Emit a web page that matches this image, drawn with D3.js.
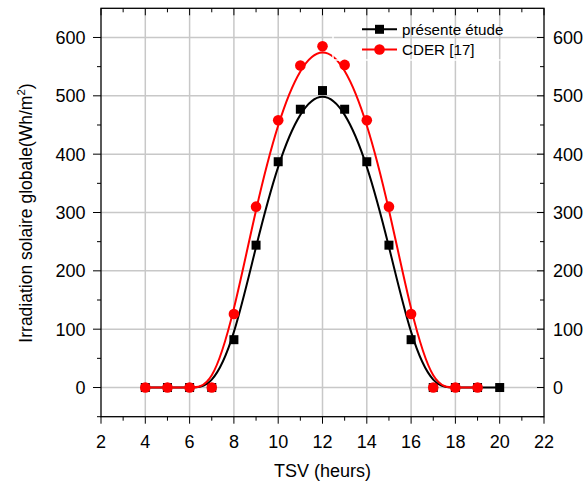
<!DOCTYPE html>
<html><head><meta charset="utf-8">
<script src="https://cdn.jsdelivr.net/npm/d3@7"></script>
<style>body{margin:0;background:#fff}svg{display:block}text{font-family:"Liberation Sans",Arial,sans-serif}</style>
</head><body><svg id="c" width="587" height="487"></svg>
<script>
const hours = [4,5,6,7,8,9,10,11,12,13,14,15,16,17,18,19,20];
const presente = [0,0,0,0,82,244,387,477,509,477,387,244,82,0,0,0,0];
const cderHours = [4,5,6,7,8,9,10,11,12,13,14,15,16,17,18,19];
const cder = [0,0,0,0,126,310,458,552,585,553,458,310,126,0,0,0];
const xTicks = [2,4,6,8,10,12,14,16,18,20,22];
const yTicks = [0,100,200,300,400,500,600];
const legendLabels = ["présente étude","CDER [17]"];

const svg = d3.select("#c");
const L=101,R=544,T=8.3,B=416.7;
const x = d3.scaleLinear().domain([2,22]).range([L,R]);
const y = d3.scaleLinear().domain([-50,650]).range([B,T]);
const grid="#c8c8c8";
const FS=18;

// grid
svg.append("g").selectAll("line").data(xTicks.filter(d=>d>2&&d<22)).join("line")
  .attr("x1",d=>x(d)).attr("x2",d=>x(d)).attr("y1",T).attr("y2",B)
  .attr("stroke",grid).attr("stroke-width",1.5);
svg.append("g").selectAll("line").data(yTicks).join("line")
  .attr("x1",L).attr("x2",R).attr("y1",d=>y(d)).attr("y2",d=>y(d))
  .attr("stroke",grid).attr("stroke-width",1.5);

// axes
const xMinor = d3.range(3,22,2);
const yMinor = d3.range(-50,650,100);
const ax = svg.append("g").attr("stroke","#000").attr("stroke-width",1);
xTicks.forEach(d=>ax.append("line").attr("x1",x(d)).attr("x2",x(d)).attr("y1",B).attr("y2",B+7));
xMinor.forEach(d=>ax.append("line").attr("x1",x(d)).attr("x2",x(d)).attr("y1",B).attr("y2",B+4));
xTicks.forEach(d=>ax.append("line").attr("x1",x(d)).attr("x2",x(d)).attr("y1",T).attr("y2",T+7));
xMinor.forEach(d=>ax.append("line").attr("x1",x(d)).attr("x2",x(d)).attr("y1",T).attr("y2",T+4));
yTicks.forEach(d=>ax.append("line").attr("x1",L-8).attr("x2",L).attr("y1",y(d)).attr("y2",y(d)));
yMinor.forEach(d=>ax.append("line").attr("x1",L-4).attr("x2",L).attr("y1",y(d)).attr("y2",y(d)));
yTicks.forEach(d=>ax.append("line").attr("x1",R-7).attr("x2",R).attr("y1",y(d)).attr("y2",y(d)));
yMinor.forEach(d=>ax.append("line").attr("x1",R-4).attr("x2",R).attr("y1",y(d)).attr("y2",y(d)));
svg.append("rect").attr("x",L).attr("y",T).attr("width",R-L).attr("height",B-T)
  .attr("fill","none").attr("stroke","#000").attr("stroke-width",1.3);

// tick labels
svg.append("g").selectAll("text").data(xTicks).join("text")
  .attr("x",d=>x(d)).attr("y",448).attr("text-anchor","middle").attr("font-size",FS).text(d=>d);
svg.append("g").selectAll("text").data(yTicks).join("text")
  .attr("x",85.5).attr("y",d=>y(d)+6.5).attr("text-anchor","end").attr("font-size",FS).text(d=>d);
svg.append("g").selectAll("text").data(yTicks).join("text")
  .attr("x",553).attr("y",d=>y(d)+6.5).attr("text-anchor","start").attr("font-size",FS).text(d=>d);

// titles
svg.append("text").attr("x",(L+R)/2).attr("y",477).attr("text-anchor","middle").attr("font-size",FS).text("TSV (heurs)");
const yl = svg.append("text").attr("transform","translate(32,213) rotate(-90)").attr("text-anchor","middle").attr("font-size",17.5);
yl.append("tspan").text("Irradiation solaire globale(Wh/m");
yl.append("tspan").attr("font-size",11.5).attr("dy",-7).text("2");
yl.append("tspan").attr("dy",7).text(")");

// curves
const line = d3.line().x(d=>x(d[0])).y(d=>y(d[1])).curve(d3.curveBasis);
const blackPts = hours.map((h,i)=>[h,presente[i]]);
const redPts = cderHours.map((h,i)=>[h,cder[i]]);
svg.append("path").attr("d",line(blackPts)).attr("fill","none").attr("stroke","#000").attr("stroke-width",2);
svg.append("path").attr("d",line(redPts)).attr("fill","none").attr("stroke","#ff0000").attr("stroke-width",2);

// white legend-frame artifact
svg.append("path").attr("d",`M333,14 L333,60 L540,60`).attr("fill","none").attr("stroke","#fff").attr("stroke-width",1.5);

// markers
svg.append("g").selectAll("rect").data(blackPts).join("rect")
  .attr("x",d=>x(d[0])-4.5).attr("y",d=>y(d[1])-4.5).attr("width",9).attr("height",9).attr("fill","#000");
svg.append("g").selectAll("circle").data(redPts).join("circle")
  .attr("cx",d=>x(d[0])).attr("cy",d=>y(d[1])).attr("r",5.3).attr("fill","#ff0000");

// legend
const lg = svg.append("g");
const ly=[29.3,49.5], cols=["#000","#ff0000"];
ly.forEach((yy,i)=>{
  lg.append("line").attr("x1",362).attr("x2",397).attr("y1",yy).attr("y2",yy).attr("stroke",cols[i]).attr("stroke-width",2);
  if(i===0) lg.append("rect").attr("x",379.5-4.5).attr("y",yy-4.5).attr("width",9).attr("height",9).attr("fill","#000");
  else lg.append("circle").attr("cx",379.5).attr("cy",yy).attr("r",5.3).attr("fill","#ff0000");
  lg.append("text").attr("x",402).attr("y",yy+5.5).attr("font-size",15.2).text(legendLabels[i]);
});
</script></body></html>
